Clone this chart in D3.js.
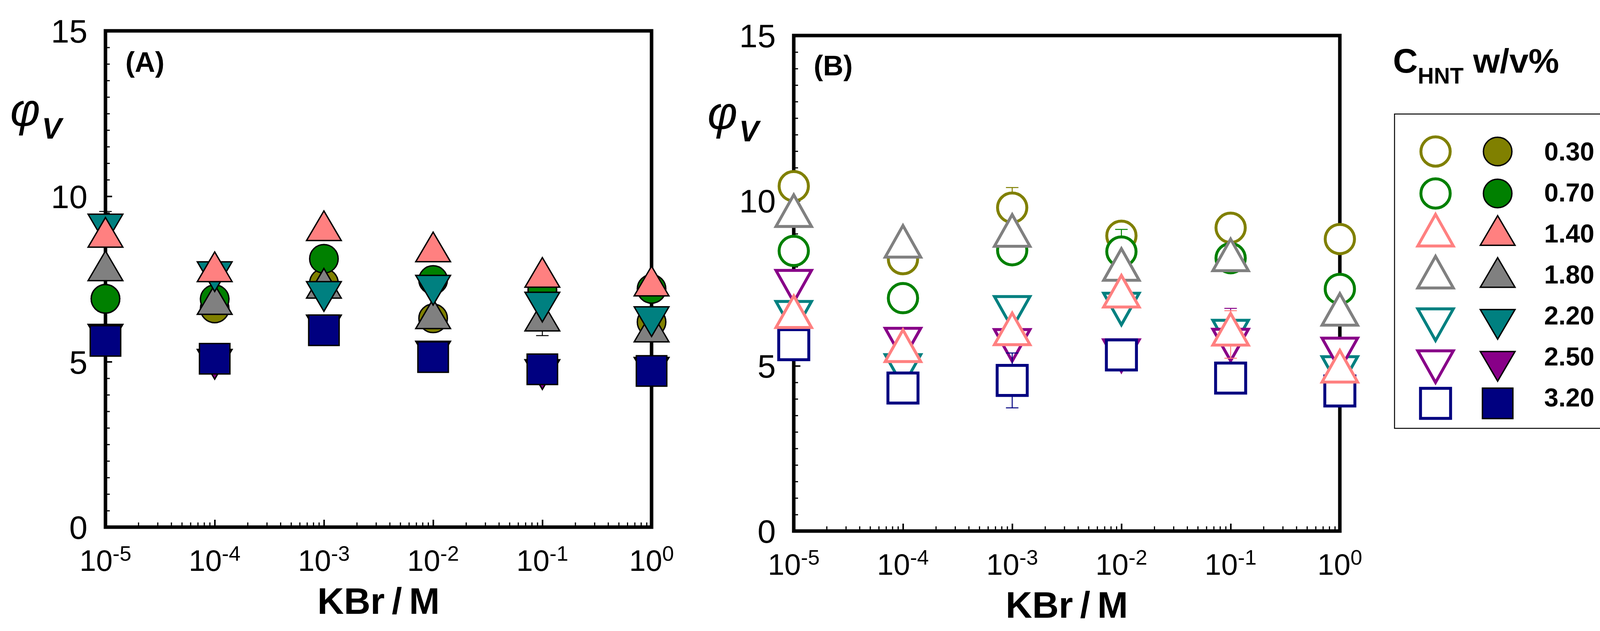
<!DOCTYPE html>
<html>
<head>
<meta charset="utf-8">
<script src="https://cdn.jsdelivr.net/npm/d3@7/dist/d3.min.js"></script>
<style>
  html, body { margin: 0; padding: 0; background: #fff; }
  svg { display: block; }
  text { font-family: "Liberation Sans", Arial, sans-serif; }
</style>
</head>
<body>
<script>
// ---------------- DATA ----------------
const concentrations = [1e-5, 1e-4, 1e-3, 1e-2, 1e-1, 1];
const xTickExponents = ["-5", "-4", "-3", "-2", "-1", "0"];
const yTickValues = [0, 5, 10, 15];
const seriesNames = ["0.30", "0.70", "1.40", "1.80", "2.20", "2.50", "3.20"];
const seriesColors = ["#808000", "#008000", "#FF8080", "#808080", "#008080", "#880088", "#000080"];
const seriesShapes = ["circle", "circle", "triangleUp", "triangleUp", "triangleDown", "triangleDown", "square"];

// Panel A (filled symbols)
const phiA_030 = [6.90, 6.61, 7.38, 6.31, 7.15, 6.20];
const phiA_070 = [6.90, 6.89, 8.11, 7.47, 7.18, 7.20];
const phiA_140 = [8.76, 7.72, 8.96, 8.32, 7.55, 7.29];
const phiA_180 = [7.75, 6.73, 7.22, 6.30, 6.23, 5.90];
const phiA_220 = [9.16, 7.72, 7.12, 7.31, 6.80, 6.36];
const phiA_250 = [5.83, 5.07, 6.11, 5.32, 4.76, 4.83];
const phiA_320 = [5.63, 5.09, 5.95, 5.14, 4.77, 4.72];
const errA_030 = [0, 0, 0, 0, 0, 0];
const errA_070 = [0, 0, 0, 0, 0, 0];
const errA_140 = [0, 0, 0, 0, 0, 0];
const errA_180 = [0, 0, 0, 0, 0.44, 0];
const errA_220 = [0.38, 0, 0, 0, 0, 0];
const errA_250 = [0, 0, 0, 0, 0, 0];
const errA_320 = [0, 0, 0, 0, 0, 0];

// Panel B (open symbols)
const phiB_030 = [10.44, 8.23, 9.79, 8.94, 9.18, 8.84];
const phiB_070 = [8.48, 7.05, 8.50, 8.46, 8.26, 7.33];
const phiB_140 = [6.48, 5.45, 5.96, 7.10, 5.95, 4.83];
const phiB_180 = [9.54, 8.61, 8.94, 7.91, 8.20, 6.55];
const phiB_220 = [6.63, 5.02, 6.78, 6.88, 6.06, 4.96];
const phiB_250 = [7.57, 5.82, 5.78, 5.47, 5.79, 5.52];
const phiB_320 = [5.64, 4.33, 4.56, 5.33, 4.63, 4.24];
const errB_030 = [0, 0, 0.61, 0, 0, 0];
const errB_070 = [0, 0, 0, 0.67, 0, 0];
const errB_140 = [0, 0, 0, 0, 0.72, 0];
const errB_180 = [0, 0, 0, 0, 0, 0];
const errB_220 = [0, 0, 0, 0, 0, 0];
const errB_250 = [0, 0, 0, 0, 0.95, 0];
const errB_320 = [0, 0, 0.83, 0, 0, 0];

const valuesA = [phiA_030, phiA_070, phiA_140, phiA_180, phiA_220, phiA_250, phiA_320];
const errorsA = [errA_030, errA_070, errA_140, errA_180, errA_220, errA_250, errA_320];
const valuesB = [phiB_030, phiB_070, phiB_140, phiB_180, phiB_220, phiB_250, phiB_320];
const errorsB = [errB_030, errB_070, errB_140, errB_180, errB_220, errB_250, errB_320];

// drawing order back -> front
const drawOrder = [0, 1, 3, 4, 5, 6, 2];

// ---------------- LAYOUT ----------------
const W = 4184, H = 1616;
const svg = d3.select("body").append("svg").attr("width", W).attr("height", H);
svg.append("rect").attr("width", W).attr("height", H).attr("fill", "#fff");

const SANS = "'Liberation Sans', Arial, sans-serif";
const SERIF = "'Liberation Serif', 'Times New Roman', serif";

function shapePath(shape, filled) {
  const p = d3.path();
  if (shape === "circle") {
    const r = filled ? 36.5 : 37.5;
    p.arc(0, 0, r, 0, 2 * Math.PI);
  } else if (shape === "triangleUp" || shape === "triangleDown") {
    const w = filled ? 89 : 91, h = filled ? 76 : 81;
    const s = shape === "triangleUp" ? 1 : -1;
    p.moveTo(0, -s * 2 * h / 3);
    p.lineTo(w / 2, s * h / 3);
    p.lineTo(-w / 2, s * h / 3);
    p.closePath();
  } else {
    const a = filled ? 78 : 77;
    p.rect(-a / 2, -a / 2, a, a);
  }
  return p.toString();
}

function drawMarker(g, shape, color, filled, x, y) {
  g.append("path")
    .attr("d", shapePath(shape, filled))
    .attr("transform", `translate(${x},${y})`)
    .attr("fill", filled ? color : "#fff")
    .attr("stroke", filled ? "#000" : color)
    .attr("stroke-width", filled ? 3.5 : 7.5)
    .attr("stroke-linejoin", "miter");
}

function drawPanel(cfg) {
  const x = d3.scaleLog().domain([1e-5, 1]).range([cfg.x0, cfg.x1]);
  const y = d3.scaleLinear().domain([0, 15]).range([cfg.y0, cfg.y1]);
  const g = svg.append("g");

  // minor / major ticks (inward) via d3 axes
  const yMinor = d3.range(0, 15.01, 0.5).filter(v => v % 5 !== 0);
  const yAxisMinor = d3.axisRight(y).tickValues(yMinor).tickSize(11).tickFormat("");
  const yAxisMajor = d3.axisRight(y).tickValues(yTickValues).tickSize(17).tickFormat("");
  const gyMi = g.append("g").attr("transform", `translate(${cfg.x0},0)`).call(yAxisMinor);
  const gyMa = g.append("g").attr("transform", `translate(${cfg.x0},0)`).call(yAxisMajor);
  gyMi.selectAll("line").attr("stroke", "#000").attr("stroke-width", 3);
  gyMa.selectAll("line").attr("stroke", "#000").attr("stroke-width", 4);

  const xMinor = [];
  for (let e = -5; e < 0; e++) for (let m = 2; m <= 9; m++) xMinor.push(m * Math.pow(10, e));
  const xAxisMinor = d3.axisTop(x).tickValues(xMinor).tickSize(12).tickFormat("");
  const xAxisMajor = d3.axisTop(x).tickValues(concentrations).tickSize(19).tickFormat("");
  const gxMi = g.append("g").attr("transform", `translate(0,${cfg.y0})`).call(xAxisMinor);
  const gxMa = g.append("g").attr("transform", `translate(0,${cfg.y0})`).call(xAxisMajor);
  gxMi.selectAll("line").attr("stroke", "#000").attr("stroke-width", 3);
  gxMa.selectAll("line").attr("stroke", "#000").attr("stroke-width", 4);
  g.selectAll(".domain").remove();

  // frame
  g.append("rect")
    .attr("x", cfg.x0).attr("y", cfg.y1)
    .attr("width", cfg.x1 - cfg.x0).attr("height", cfg.y0 - cfg.y1)
    .attr("fill", "none").attr("stroke", "#000").attr("stroke-width", 9);

  // y tick labels
  g.selectAll(".ylab").data(yTickValues).enter().append("text")
    .attr("x", cfg.x0 - 46).attr("y", d => y(d)).attr("dy", "0.36em")
    .attr("text-anchor", "end").attr("font-size", 84).attr("font-family", SANS)
    .text(d => d);

  // x tick labels 10^n
  concentrations.forEach((c, i) => {
    const t = g.append("text")
      .attr("x", x(c)).attr("y", cfg.y0 + 112)
      .attr("text-anchor", "middle").attr("font-family", SANS);
    t.append("tspan").attr("font-size", 76).text("10");
    t.append("tspan").attr("font-size", 54).attr("dy", -26).text(xTickExponents[i]);
  });

  // axis titles
  g.append("text")
    .attr("x", (cfg.x0 + cfg.x1) / 2).attr("y", cfg.y0 + 222)
    .attr("text-anchor", "middle").attr("font-size", 94).attr("font-weight", "bold")
    .attr("word-spacing", -8).attr("font-family", SANS)
    .text("KBr / M");

  g.append("text").attr("x", cfg.phiX).attr("y", cfg.phiY)
    .attr("font-family", SERIF).attr("font-style", "italic").attr("font-size", 118)
    .text("φ");
  g.append("text").attr("x", cfg.vX).attr("y", cfg.vY)
    .attr("font-family", SANS).attr("font-style", "italic").attr("font-weight", "bold")
    .attr("font-size", 76).text("V");

  g.append("text")
    .attr("x", cfg.labX).attr("y", cfg.labY)
    .attr("font-size", 72).attr("font-weight", "bold").attr("font-family", SANS)
    .text(cfg.label);

  // data
  const gd = g.append("g");
  drawOrder.forEach(si => {
    const vals = cfg.values[si], errs = cfg.errors[si];
    const ecol = cfg.filled ? "#000" : seriesColors[si];
    concentrations.forEach((c, i) => {
      const e = errs[i];
      if (e > 0) {
        const cx = x(c);
        gd.append("line").attr("x1", cx).attr("x2", cx)
          .attr("y1", y(vals[i] - e)).attr("y2", y(vals[i] + e))
          .attr("stroke", ecol).attr("stroke-width", 2.5);
        [vals[i] - e, vals[i] + e].forEach(v => {
          gd.append("line").attr("x1", cx - 16).attr("x2", cx + 16)
            .attr("y1", y(v)).attr("y2", y(v))
            .attr("stroke", ecol).attr("stroke-width", 2.5);
        });
      }
    });
    concentrations.forEach((c, i) => {
      drawMarker(gd, seriesShapes[si], seriesColors[si], cfg.filled, x(c), y(vals[i]));
    });
  });
}

drawPanel({ x0: 270, x1: 1668, y0: 1350, y1: 79, values: valuesA, errors: errorsA, filled: true,
            label: "(A)", labX: 321, labY: 184, phiX: 26, phiY: 322, vX: 107, vY: 355 });
drawPanel({ x0: 2032, x1: 3430, y0: 1360, y1: 91, values: valuesB, errors: errorsB, filled: false,
            label: "(B)", labX: 2083, labY: 193, phiX: 1811, phiY: 330, vX: 1892, vY: 362 });

// ---------------- LEGEND ----------------
const lg = svg.append("g");
const title = lg.append("text").attr("x", 3566).attr("y", 186)
  .attr("font-family", SANS).attr("font-weight", "bold");
title.append("tspan").attr("font-size", 88).text("C");
title.append("tspan").attr("font-size", 57).attr("dy", 28).text("HNT");
title.append("tspan").attr("font-size", 88).attr("dy", -28).text(" w/v%");

lg.append("rect").attr("x", 3570).attr("y", 292).attr("width", 583).attr("height", 805)
  .attr("fill", "none").attr("stroke", "#000").attr("stroke-width", 2.5);

const rowMarker = d3.scalePoint().domain(seriesNames).range([388, 1033]);
const rowLabel = d3.scalePoint().domain(seriesNames).range([387, 1017]);
seriesNames.forEach((name, si) => {
  drawMarker(lg, seriesShapes[si], seriesColors[si], false, 3675, rowMarker(name));
  drawMarker(lg, seriesShapes[si], seriesColors[si], true, 3834, rowMarker(name));
  lg.append("text").attr("x", 3953).attr("y", rowLabel(name)).attr("dy", "0.36em")
    .attr("font-size", 66).attr("font-weight", "bold").attr("font-family", SANS)
    .text(name);
});
</script>
</body>
</html>
